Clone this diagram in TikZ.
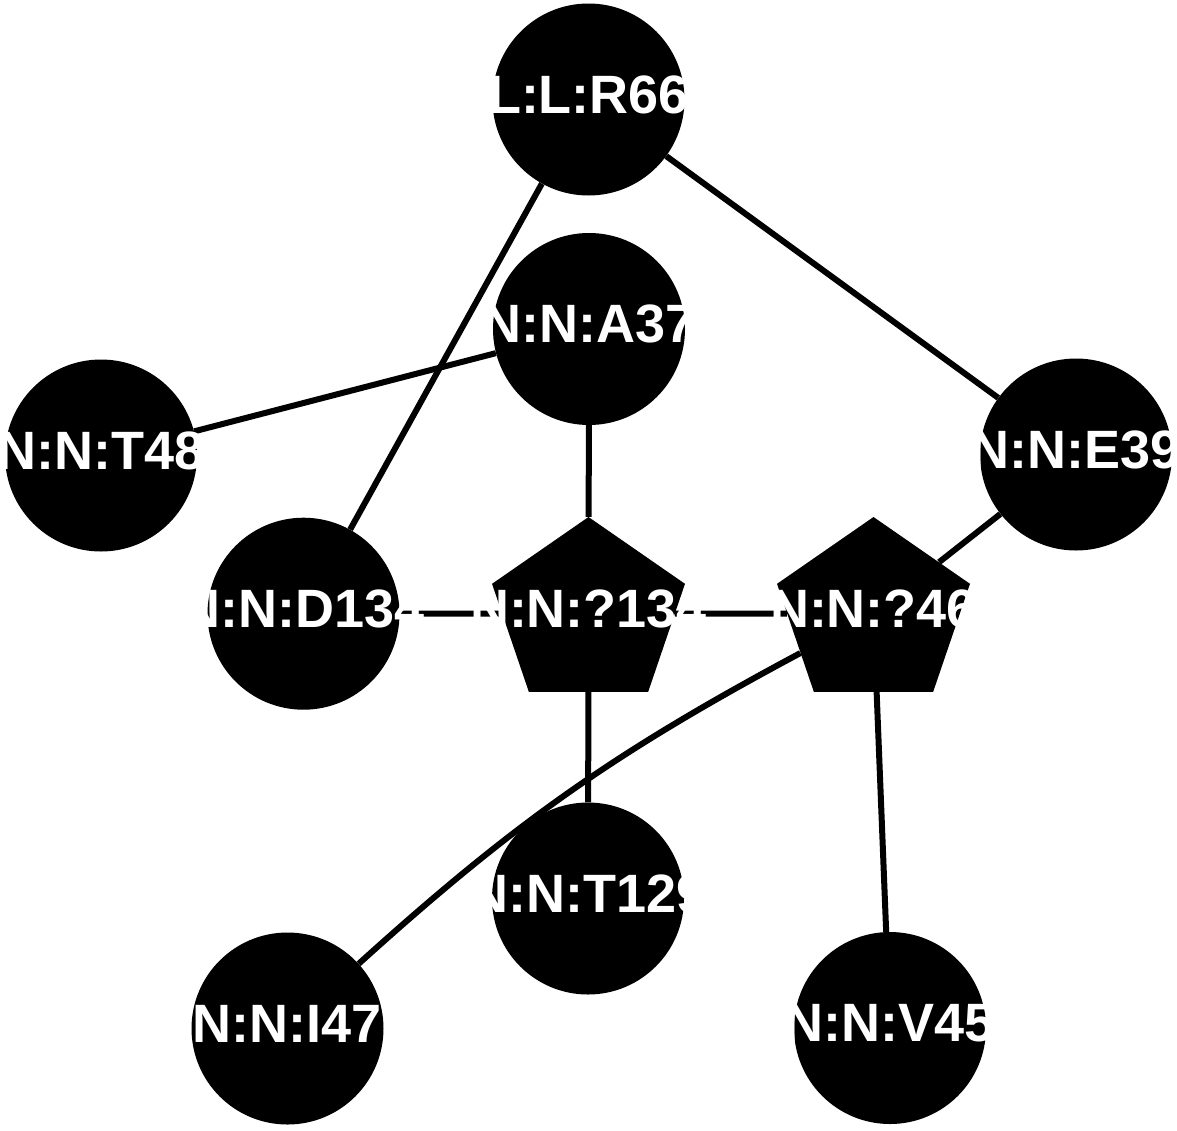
\documentclass[tikz,border=0pt]{standalone}
\usepackage{fontspec}
\setmainfont{Liberation Sans}
\usetikzlibrary{shapes.geometric,backgrounds}
\newcommand{\nlab}[1]{\makebox[0pt]{#1}}
\newcommand{\klab}[1]{\makebox[0pt]{\scalebox{0.953}[1]{#1}}}

\begin{document}
\begin{tikzpicture}
[
x=1pt,y=-1pt,
residue/.style={circle,fill=black,inner sep=0pt,minimum size=192pt,text=white,
            font=\bfseries\fontsize{54}{62}\selectfont,text height=38pt,text depth=11pt},
knot/.style={residue,shape=regular polygon,regular polygon sides=5,
            minimum size=193.4pt,xscale=1.049,transform shape},
bond/.style={line width=6pt},
]
\useasboundingbox (0,0) rectangle (1177,1130);

%Place the nodes
\node[residue] (r66) at (588.5,99.5) {\nlab{L:L:R66}};
\node[residue] (a37) at (589,329) {\nlab{N:N:A37}};
\node[residue] (t48) at (101,455.5) {\nlab{N:N:T48}};
\node[residue] (e39) at (1076,454.5) {\nlab{N:N:E39}};
\node[residue] (d134) at (303.5,613.7) {\nlab{N:N:D134}};
\node[knot] (q134) at (588.5,613.7) {\klab{N:N:?134}};
\node[knot] (q46) at (873.5,613.7) {\klab{N:N:?46}};
\node[residue] (t129) at (588,898.5) {\nlab{N:N:T129}};
\node[residue] (i47) at (287.5,1028.5) {\nlab{N:N:I47}};
\node[residue] (v45) at (890,1028) {\nlab{N:N:V45}};

%Draw the connections
\begin{scope}[on background layer]
\draw[bond] (r66) -- (e39);
\draw[bond] (r66) -- (d134);
\draw[bond] (a37) -- (t48);
\draw[bond] (a37) -- (q134);
\draw[bond] (d134) -- (q134);
\draw[bond] (q134) -- (q46);
\draw[bond] (q134) -- (t129);
\draw[bond] (e39) -- (q46);
\draw[bond] (q46) to[bend right=7] (i47);
\draw[bond] (q46) -- (v45);
\end{scope}
\end{tikzpicture}
\end{document}
